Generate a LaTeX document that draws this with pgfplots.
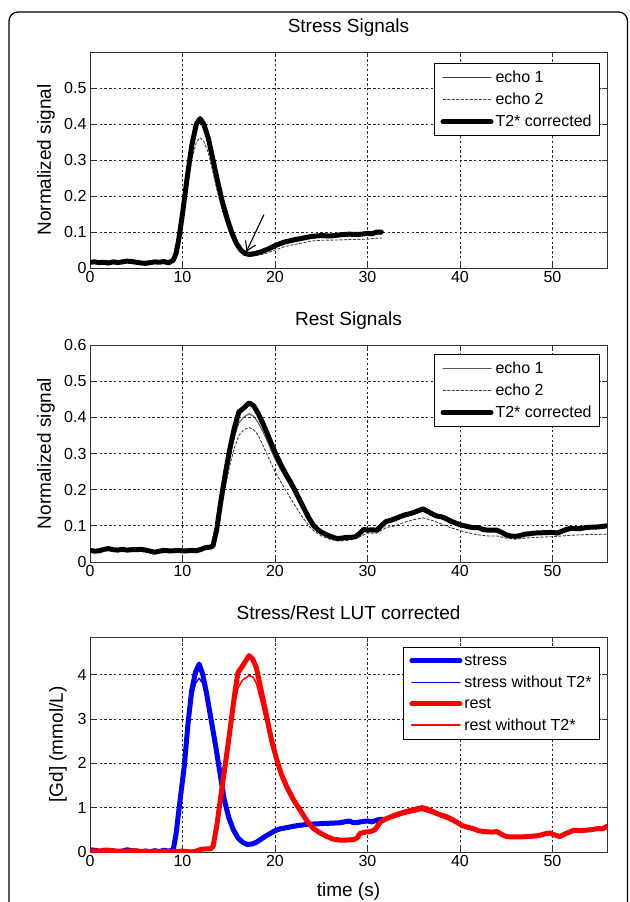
\documentclass[border=0pt]{standalone}
\usepackage{pgfplots}
\pgfplotsset{compat=1.18}
\usepackage{fontspec}
\setmainfont{Liberation Sans}
\usetikzlibrary{arrows.meta}

\pgfplotsset{mat/.style={
  scale only axis, width=517pt, xmin=0, xmax=55.9,
  xtick={0,10,20,30,40,50},
  grid=major,
  major grid style={black!85, line width=0.8pt, dash pattern=on 2.4pt off 2.4pt},
  axis line style={black!80, line width=0.9pt},
  tick style={black!80, line width=0.8pt},
  major tick length=5pt,
  tick align=inside,
  /pgf/number format/assume math mode=true,
  tick label style={font=\fontsize{16}{16}\selectfont},
  yticklabel style={/pgf/number format/fixed, /pgf/number format/precision=1},
  title style={at={(axis description cs:0.5,1)}, anchor=center, yshift=18pt, font=\fontsize{19}{19}\selectfont},
  ylabel style={anchor=center, font=\fontsize{19}{19}\selectfont},
  xlabel style={at={(axis description cs:0.5,0)}, anchor=center, yshift=-40pt, font=\fontsize{19}{19}\selectfont},
  legend cell align=left,
  legend style={font=\fontsize{16}{16}\selectfont, draw=black, line width=0.9pt, row sep=5pt, inner xsep=6pt, inner ysep=5.5pt, anchor=north east},
  legend image code/.code={\draw[mark repeat=2,mark phase=2,##1] plot coordinates {(0pt,0pt) (24pt,0pt) (48pt,0pt)};},
  every axis plot/.append style={line join=round, line cap=round},
}}
\definecolor{mred}{RGB}{255,0,0}
\definecolor{mblue}{RGB}{0,0,255}

\begin{document}
\begin{tikzpicture}
\path[use as bounding box] (0pt,0pt) rectangle (629pt,-902pt);
\draw[line width=1.3pt, rounded corners=9pt] (9pt,-920pt) -- (9pt,-12pt) -- (627.5pt,-12pt) -- (627.5pt,-920pt);

% ---------------- Panel 1 ----------------
\begin{axis}[mat, at={(90pt,-268pt)}, anchor=south west, height=216pt,
  ymin=0, ymax=0.6, ytick={0,0.1,0.2,0.3,0.4,0.5},
  title={Stress Signals}, ylabel={Normalized signal},
  ylabel style={at={(axis description cs:-0.085,0.5)}},
  legend style={at={(axis description cs:0.9865,0.949)}}]
\addplot[black!75, line width=1pt] coordinates {
(0,0.016)(0.5,0.017)(1,0.015)(1.5,0.016)(2,0.014)(2.5,0.017)(3,0.015)(3.5,0.017)(4,0.019)(4.5,0.018)(5,0.016)(5.5,0.014)(6,0.013)(6.5,0.015)(7,0.017)(7.5,0.016)(8,0.018)(8.5,0.014)
(9,0.022)(9.3,0.04)(9.6,0.078)(10,0.145)(10.5,0.24)(11,0.33)(11.5,0.39)(11.9,0.405)(12.3,0.39)(12.8,0.35)(13.3,0.29)(13.8,0.233)(14.3,0.18)(14.8,0.136)(15.3,0.097)(15.8,0.068)(16.3,0.049)(16.8,0.039)(17.3,0.037)(17.8,0.039)(18.5,0.043)(19.2,0.048)(20,0.057)(21,0.067)(22,0.073)(23,0.078)(24,0.083)(25,0.086)(27,0.088)(28,0.09)(30,0.092)(31,0.095)(31.5,0.095)};
\addlegendentry{echo 1}
\addplot[black!75, line width=0.9pt, dash pattern=on 2.5pt off 2pt] coordinates {
(0,0.014)(1,0.013)(2,0.012)(3,0.013)(4,0.016)(5,0.014)(6,0.011)(7,0.014)(8,0.015)(8.5,0.013)
(9,0.02)(9.3,0.035)(9.6,0.07)(10,0.13)(10.5,0.22)(11,0.30)(11.5,0.35)(11.9,0.362)(12.3,0.352)(12.8,0.32)(13.3,0.265)(13.8,0.21)(14.3,0.16)(14.8,0.12)(15.3,0.085)(15.8,0.06)(16.3,0.043)(16.8,0.034)(17.3,0.032)(17.8,0.034)(18.5,0.037)(19.2,0.042)(20,0.05)(21,0.059)(22,0.065)(23,0.07)(24,0.075)(25,0.077)(27,0.078)(28,0.079)(30,0.08)(31,0.083)(31.5,0.083)};
\addlegendentry{echo 2}
\addplot[black, line width=5pt] coordinates {
(0,0.016)(0.5,0.017)(1,0.015)(1.5,0.016)(2,0.014)(2.5,0.017)(3,0.015)(3.5,0.017)(4,0.019)(4.5,0.018)(5,0.016)(5.5,0.014)(6,0.013)(6.5,0.015)(7,0.017)(7.5,0.016)(8,0.018)(8.5,0.014)
(9,0.022)(9.3,0.04)(9.6,0.08)(10,0.15)(10.5,0.25)(11,0.34)(11.5,0.40)(11.9,0.415)(12.3,0.40)(12.8,0.36)(13.3,0.30)(13.8,0.24)(14.3,0.185)(14.8,0.14)(15.3,0.10)(15.8,0.07)(16.3,0.05)(16.8,0.04)(17.3,0.038)(17.8,0.04)(18.5,0.045)(19.2,0.052)(20,0.062)(21,0.072)(22,0.078)(23,0.083)(24,0.088)(25,0.09)(26,0.089)(27,0.092)(28,0.094)(29,0.093)(30,0.096)(30.5,0.095)(31,0.1)(31.5,0.1)};
\addlegendentry{T2* corrected}
\draw[black, line width=1.1pt, -{Straight Barb[length=9pt,width=11pt]}] (axis cs:18.8,0.148) -- (axis cs:16.9,0.045);
\end{axis}

% ---------------- Panel 2 ----------------
\begin{axis}[mat, at={(90pt,-562pt)}, anchor=south west, height=217pt,
  ymin=0, ymax=0.6, ytick={0,0.1,0.2,0.3,0.4,0.5,0.6},
  title={Rest Signals}, ylabel={Normalized signal},
  ylabel style={at={(axis description cs:-0.085,0.5)}},
  legend style={at={(axis description cs:0.9865,0.958)}}]
\addplot[black!65, line width=1.1pt] coordinates {
(0,0.032)(0.5,0.03)(1,0.031)(1.5,0.035)(2,0.037)(2.5,0.034)(3,0.033)(3.5,0.035)(4,0.033)(4.5,0.034)(5,0.034)(5.5,0.035)(6,0.033)(6.5,0.03)(7,0.027)(7.5,0.03)(8,0.032)(8.5,0.031)(9,0.031)(9.5,0.032)(10,0.031)(10.5,0.031)(11,0.032)(11.5,0.031)(12,0.035)(12.5,0.04)(13,0.041)
(13.3,0.044)(13.7,0.085)(14.1,0.15)(14.6,0.225)(15.1,0.29)(15.6,0.345)(16.1,0.385)(16.6,0.4)(17.2,0.41)(17.7,0.403)(18.2,0.385)(18.7,0.36)(19.2,0.333)(19.7,0.302)(20.2,0.275)(20.7,0.252)(21.2,0.23)(21.7,0.21)(22.2,0.187)(22.7,0.162)(23.2,0.138)(23.7,0.114)(24.2,0.096)(24.7,0.085)(25.2,0.077)(25.7,0.071)(26.2,0.067)(27,0.063)(28,0.066)(28.5,0.068)(29.2,0.078)(29.6,0.087)(30,0.086)(31,0.086)(31.5,0.097)(32,0.108)(33,0.115)(34,0.125)(35,0.132)(36,0.141)(37,0.128)(38,0.12)(39,0.109)(40,0.099)(41,0.093)(42,0.091)(43,0.085)(44,0.084)(45,0.072)(46,0.068)(47,0.074)(48,0.077)(50,0.079)(51,0.082)(52,0.089)(54,0.092)(55.9,0.096)};
\addlegendentry{echo 1}
\addplot[black!75, line width=0.9pt, dash pattern=on 2.5pt off 2pt] coordinates {
(0,0.03)(2,0.034)(4,0.031)(6,0.031)(7,0.025)(8,0.03)(10,0.029)(12,0.033)(13,0.038)(13.3,0.042)(13.7,0.08)(14.1,0.14)(14.6,0.205)(15.1,0.265)(15.6,0.315)(16.1,0.35)(16.6,0.365)(17.2,0.372)(17.7,0.366)(18.2,0.35)(19,0.305)(20,0.25)(21,0.205)(22,0.163)(23,0.123)(24,0.09)(25,0.072)(26,0.062)(27,0.058)(28,0.06)(29,0.068)(30,0.08)(31,0.08)(32,0.095)(33,0.1)(34,0.11)(35,0.117)(36,0.122)(37,0.115)(38,0.105)(39,0.095)(40,0.087)(41,0.08)(42,0.075)(43,0.072)(44,0.072)(45,0.066)(46,0.063)(47,0.066)(48,0.068)(50,0.07)(52,0.074)(54,0.076)(55.9,0.077)};
\addlegendentry{echo 2}
\addplot[black, line width=5pt] coordinates {
(0,0.032)(0.5,0.03)(1,0.031)(1.5,0.035)(2,0.037)(2.5,0.034)(3,0.033)(3.5,0.035)(4,0.033)(4.5,0.034)(5,0.034)(5.5,0.035)(6,0.033)(6.5,0.03)(7,0.027)(7.5,0.03)(8,0.032)(8.5,0.031)(9,0.031)(9.5,0.032)(10,0.031)(10.5,0.031)(11,0.032)(11.5,0.031)(12,0.035)(12.5,0.04)(13,0.041)
(13.3,0.045)(13.7,0.09)(14.1,0.16)(14.6,0.24)(15.1,0.31)(15.6,0.37)(16.1,0.415)(16.6,0.425)(17.2,0.44)(17.7,0.432)(18.2,0.41)(18.7,0.383)(19.2,0.353)(19.7,0.322)(20.2,0.292)(20.7,0.266)(21.2,0.242)(21.7,0.22)(22.2,0.196)(22.7,0.17)(23.2,0.145)(23.7,0.12)(24.2,0.1)(24.7,0.088)(25.2,0.08)(25.7,0.074)(26.2,0.069)(26.7,0.065)(27.2,0.066)(27.7,0.068)(28.2,0.068)(28.7,0.07)(29.2,0.08)(29.6,0.09)(30,0.088)(30.5,0.089)(31,0.088)(31.5,0.1)(32,0.112)(32.5,0.115)(33,0.12)(33.5,0.125)(34,0.13)(34.5,0.133)(35,0.137)(35.5,0.142)(36,0.147)(36.5,0.14)(37,0.133)(37.5,0.127)(38,0.125)(38.5,0.12)(39,0.113)(39.5,0.108)(40,0.103)(40.5,0.1)(41,0.097)(41.5,0.095)(42,0.095)(42.5,0.09)(43,0.088)(43.5,0.088)(44,0.088)(44.5,0.082)(45,0.075)(45.5,0.072)(46,0.071)(46.5,0.073)(47,0.077)(47.5,0.078)(48,0.08)(49,0.081)(50,0.082)(50.5,0.08)(51,0.085)(51.5,0.09)(52,0.093)(53,0.092)(53.5,0.095)(54,0.096)(55,0.097)(55.9,0.1)};
\addlegendentry{T2* corrected}
\end{axis}

% ---------------- Panel 3 ----------------
\begin{axis}[mat, at={(90pt,-852pt)}, anchor=south west, height=215pt,
  ymin=0, ymax=4.85, ytick={0,1,2,3,4},
  yticklabel style={/pgf/number format/precision=0},
  title={Stress/Rest LUT corrected}, ylabel={[Gd] (mmol/L)}, xlabel={time (s)},
  ylabel style={at={(axis description cs:-0.062,0.5)}},
  legend style={at={(axis description cs:0.9865,0.953)}}]
\addplot[mblue, line width=5pt, forget plot] coordinates {
(0,0.05)(0.5,0.04)(1,0.02)(1.5,0.0)(2,0.01)(2.5,0.02)(3,0.0)(3.5,0.02)(4,0.05)(4.5,0.03)(5,0.01)(5.5,0.0)(6,0.02)(6.5,0.0)(7,0.03)(7.5,0.01)(8,0.04)(8.5,0.02)(9,0.05)
(9.3,0.4)(9.7,1.1)(10.2,1.95)(10.6,2.9)(11,3.65)(11.4,4.05)(11.8,4.24)(12.2,4.0)(12.6,3.58)(13,3.1)(13.5,2.5)(14,1.85)(14.5,1.2)(15,0.78)(15.5,0.5)(16,0.32)(16.5,0.22)(17,0.17)(17.5,0.18)(18,0.22)(18.5,0.29)(19,0.36)(19.5,0.42)(20,0.48)(20.5,0.52)(21,0.54)(21.5,0.56)(22,0.58)(22.5,0.6)(23,0.61)(23.5,0.63)(24,0.63)(25,0.64)(26,0.65)(27,0.66)(27.5,0.68)(28,0.7)(28.5,0.66)(29,0.67)(29.5,0.69)(30,0.7)(30.5,0.68)(31,0.72)(31.5,0.74)};
\addplot[mblue, line width=1.4pt, forget plot] coordinates {
(0,0.05)(0.5,0.04)(1,0.02)(1.5,0.0)(2,0.01)(2.5,0.02)(3,0.0)(3.5,0.02)(4,0.05)(4.5,0.03)(5,0.01)(5.5,0.0)(6,0.02)(6.5,0.0)(7,0.03)(7.5,0.01)(8,0.04)(8.5,0.02)(9,0.05)
(9.3,0.38)(9.7,1.05)(10.2,1.85)(10.6,2.75)(11,3.45)(11.4,3.8)(11.8,3.92)(12.2,3.8)(12.6,3.45)(13,3.0)(13.5,2.42)(14,1.8)(14.5,1.17)(15,0.76)(15.5,0.48)(16,0.31)(16.5,0.21)(17,0.16)(17.5,0.17)(18,0.21)(18.5,0.27)(19,0.34)(19.5,0.4)(20,0.45)(21,0.51)(22,0.55)(23,0.58)(24,0.6)(25,0.61)(26,0.62)(27,0.63)(28,0.66)(29,0.64)(30,0.67)(31,0.69)(31.5,0.71)};
\addplot[mred, line width=5pt, forget plot] coordinates {
(0,0.02)(1,0.02)(1.5,0.04)(2,0.04)(2.5,0.03)(3,0.02)(4,0.02)(5,0.03)(5.5,0.01)(6,0.02)(6.5,0.01)(7,0.02)(7.5,0.0)(8,0.02)(9,0.01)(10,0.02)(10.5,0.01)(11,0.0)(11.5,0.02)(12,0.06)(12.5,0.07)(13,0.07)
(13.3,0.12)(13.7,0.58)(14.2,1.34)(14.9,2.38)(15.6,3.5)(16,4.05)(16.5,4.2)(17.2,4.43)(17.6,4.35)(18,4.15)(18.5,3.65)(19.1,3.06)(19.6,2.55)(20.2,2.08)(20.7,1.75)(21.3,1.46)(22,1.18)(22.7,0.95)(23.4,0.72)(24.1,0.54)(24.8,0.44)(25.6,0.35)(26.3,0.29)(27,0.27)(27.7,0.27)(28.5,0.28)(28.9,0.32)(29.2,0.42)(29.8,0.45)(30.3,0.46)(30.8,0.5)(31.4,0.68)(32,0.75)(32.6,0.8)(33.2,0.85)(34,0.9)(34.8,0.95)(35.5,0.98)(35.9,1.0)(36.5,0.97)(37,0.92)(37.5,0.87)(38,0.83)(38.5,0.8)(39,0.75)(39.6,0.68)(40.2,0.6)(40.8,0.56)(41.4,0.53)(42,0.48)(42.7,0.46)(43.4,0.45)(44,0.46)(44.5,0.4)(45,0.35)(45.5,0.34)(46.5,0.34)(47.5,0.35)(48.5,0.37)(49.2,0.41)(49.7,0.43)(50.3,0.38)(50.8,0.35)(51.5,0.42)(52.3,0.49)(53,0.48)(54,0.5)(55,0.53)(55.4,0.52)(55.9,0.58)};
\addplot[mred, line width=1.5pt, forget plot] coordinates {
(0,0.02)(1,0.02)(1.5,0.04)(2,0.04)(2.5,0.03)(3,0.02)(4,0.02)(5,0.03)(5.5,0.01)(6,0.02)(6.5,0.01)(7,0.02)(7.5,0.0)(8,0.02)(9,0.01)(10,0.02)(10.5,0.01)(11,0.0)(11.5,0.02)(12,0.06)(12.5,0.07)(13,0.07)
(13.3,0.11)(13.7,0.55)(14.2,1.27)(14.9,2.25)(15.6,3.3)(16,3.7)(16.5,3.88)(17.2,3.98)(17.6,3.95)(18,3.8)(18.5,3.4)(19.1,2.88)(19.6,2.42)(20.2,1.97)(20.7,1.66)(21.3,1.38)(22,1.12)(22.7,0.9)(23.4,0.69)(24.1,0.52)(24.8,0.42)(25.6,0.34)(26.3,0.28)(27,0.26)(28.5,0.27)(29.2,0.4)(30.3,0.44)(31.4,0.65)(32.6,0.76)(34,0.85)(35.9,0.94)(37,0.87)(38,0.79)(39.6,0.65)(40.8,0.53)(42,0.46)(43.4,0.43)(44,0.44)(45,0.33)(46.5,0.32)(48.5,0.35)(49.7,0.41)(50.8,0.33)(52.3,0.47)(54,0.48)(55.9,0.55)};
\addlegendimage{mblue, line width=5pt}
\addlegendentry{stress}
\addlegendimage{mblue, line width=1.6pt}
\addlegendentry{stress without T2*}
\addlegendimage{mred, line width=5pt}
\addlegendentry{rest}
\addlegendimage{mred, line width=2pt}
\addlegendentry{rest without T2*}
\end{axis}
\end{tikzpicture}
\end{document}
